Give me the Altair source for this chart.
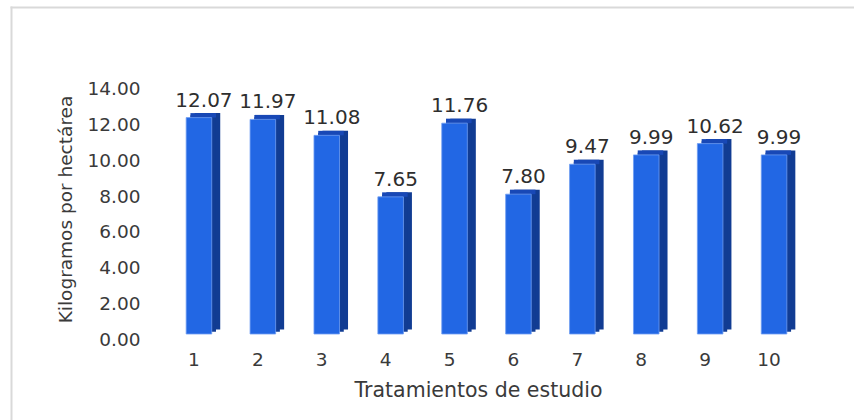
import altair as alt
import pandas as pd

tratamientos = ["1", "2", "3", "4", "5", "6", "7", "8", "9", "10"]
kg_ha = [12.07, 11.97, 11.08, 7.65, 11.76, 7.80, 9.47, 9.99, 10.62, 9.99]
y_ticks = [0, 2, 4, 6, 8, 10, 12, 14]

df = pd.DataFrame({"trat": tratamientos, "kg": kg_ha})

FRONT = "#2267E4"
SIDE = "#113C93"
CAP = "#1848B6"
TXT = "#3A3A3A"
FONT = "DejaVu Sans"

x_enc = alt.X(
    "trat:N",
    sort=tratamientos,
    scale=alt.Scale(paddingInner=0.6, paddingOuter=0.3),
    axis=alt.Axis(
        title="Tratamientos de estudio",
        labelAngle=0,
        domain=False,
        ticks=False,
        labelPadding=16,
        labelOffset=-5,
        labelFont=FONT,
        labelFontSize=18.5,
        labelColor=TXT,
        titleFont=FONT,
        titleFontSize=20.5,
        titleFontWeight="normal",
        titleColor=TXT,
        titleX=311,
        titleY=62,
        titleAlign="center",
        titleBaseline="alphabetic",
    ),
)

y_enc = alt.Y(
    "kg:Q",
    scale=alt.Scale(domain=[0, 14], nice=False),
    axis=alt.Axis(
        values=y_ticks,
        format=".2f",
        grid=False,
        domain=False,
        ticks=False,
        labelPadding=27,
        labelOffset=5.5,
        labelFont=FONT,
        labelFontSize=18.5,
        labelColor=TXT,
        title="Kilogramos por hectárea",
        titleFont=FONT,
        titleFontSize=18.5,
        titleFontWeight="normal",
        titleColor=TXT,
        titleX=-96,
        titleY=126,
        titleAlign="center",
        titleBaseline="alphabetic",
    ),
)

base = alt.Chart(df)

side_a = base.mark_bar(color=SIDE, xOffset=8.5, yOffset=-4.5, y2Offset=-4.5).encode(
    x=x_enc, y=y_enc, y2=alt.datum(0)
)
side_b = base.mark_bar(color=SIDE, xOffset=4.25, yOffset=-2.25, y2Offset=-2.25).encode(
    x=x_enc, y=y_enc, y2=alt.datum(0)
)
cap = base.mark_bar(color=CAP, xOffset=4.25, yOffset=-4.5).encode(
    x=x_enc, y=y_enc, y2=alt.Y2("kg:Q")
)
front = base.mark_bar(color=FRONT, stroke="#6F9DF2", strokeWidth=0.8).encode(
    x=x_enc, y=y_enc, y2=alt.datum(0)
)
labels = base.mark_text(
    dx=5, dy=-11, baseline="alphabetic", align="center",
    font=FONT, fontSize=20, color="#2E2E2E"
).encode(x=x_enc, y=y_enc, text=alt.Text("kg:Q", format=".2f"))

one = alt.Chart(pd.DataFrame({"a": [0]}))
frame_left = one.mark_rule(color="#D9D9D9", strokeWidth=2).encode(
    x=alt.value(-155.5), y=alt.value(-76.5), y2=alt.value(345)
)
frame_top = one.mark_rule(color="#D9D9D9", strokeWidth=2).encode(
    x=alt.value(-156.5), x2=alt.value(700), y=alt.value(-75.5)
)

chart = alt.layer(
    frame_left, frame_top, side_a, side_b, cap, front, labels
).properties(
    width=639,
    height=251,
    autosize=alt.AutoSizeParams(type="none"),
    padding={"left": 167, "top": 83, "right": 48, "bottom": 86},
    background="white",
).configure_view(stroke=None)

chart.save("out.html", embed_options={"renderer": "svg", "actions": False})
